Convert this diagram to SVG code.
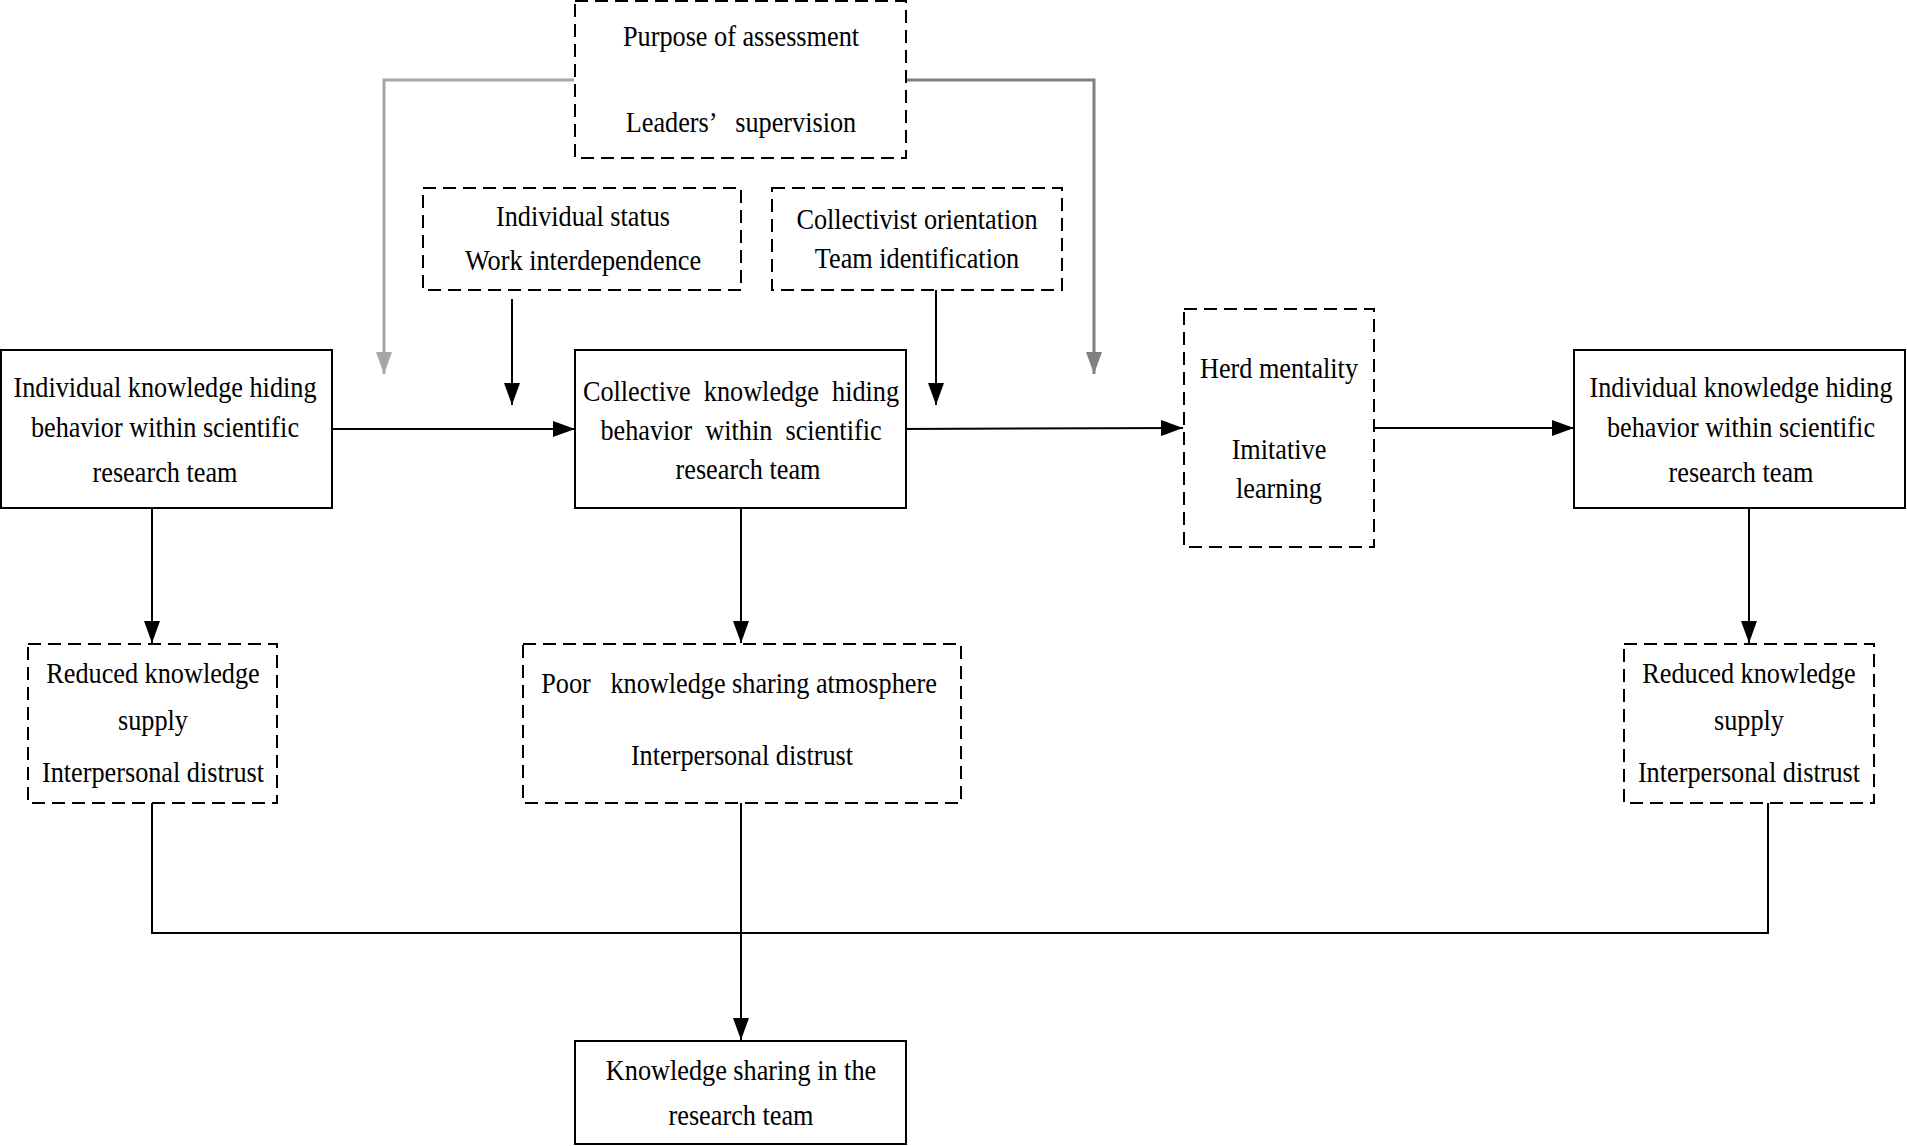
<svg xmlns="http://www.w3.org/2000/svg" width="1907" height="1146" viewBox="0 0 1907 1146">
<style>
text{font-family:"Liberation Serif","Times New Roman",serif;font-size:30px;fill:#000;text-anchor:middle;transform-box:fill-box;transform-origin:center;transform:scaleX(0.875)}
.solid{fill:#fff;stroke:#000;stroke-width:2}
.dash{fill:#fff;stroke:#000;stroke-width:2;stroke-dasharray:13 7}
.c{fill:none;stroke:#000;stroke-width:2}
</style>
<defs>
<marker id="ah" markerUnits="userSpaceOnUse" markerWidth="22" markerHeight="16" refX="22" refY="8" orient="auto">
<path d="M0,0 L22,8 L0,16 Z" fill="#000"/>
</marker>
<marker id="ahl" markerUnits="userSpaceOnUse" markerWidth="22" markerHeight="16" refX="22" refY="8" orient="auto">
<path d="M0,0 L22,8 L0,16 Z" fill="#a6a6a6"/>
</marker>
<marker id="ahd" markerUnits="userSpaceOnUse" markerWidth="22" markerHeight="16" refX="22" refY="8" orient="auto">
<path d="M0,0 L22,8 L0,16 Z" fill="#808080"/>
</marker>
</defs>
<rect width="1907" height="1146" fill="#fff"/>
<g id="connectors">
<path d="M574,80 H384 V374" fill="none" stroke="#a6a6a6" stroke-width="3" marker-end="url(#ahl)"/>
<path d="M906,80 H1094 V374" fill="none" stroke="#808080" stroke-width="3" marker-end="url(#ahd)"/>
<path class="c" d="M512,299 V405" marker-end="url(#ah)"/>
<path class="c" d="M936,287 V405" marker-end="url(#ah)"/>
<path class="c" d="M332,429 H575" marker-end="url(#ah)"/>
<path class="c" d="M900,429 L1183,428" marker-end="url(#ah)"/>
<path class="c" d="M1374,428 H1574" marker-end="url(#ah)"/>
<path class="c" d="M152,508 V643" marker-end="url(#ah)"/>
<path class="c" d="M741,508 V643" marker-end="url(#ah)"/>
<path class="c" d="M1749,508 V643" marker-end="url(#ah)"/>
<path class="c" d="M152,803 V933 H1768 V803"/>
<path class="c" d="M741,803 V1040" marker-end="url(#ah)"/>
</g>
<g id="n-purpose">
<rect class="dash" x="575" y="1" width="331" height="157"/>
<text x="741" y="46">Purpose of assessment</text>
<text x="741" y="132" xml:space="preserve">Leaders’   supervision</text>
</g>
<g id="n-status">
<rect class="dash" x="423" y="188" width="318" height="102"/>
<text x="583" y="226">Individual status</text>
<text x="583" y="270">Work interdependence</text>
</g>
<g id="n-collectivist">
<rect class="dash" x="772" y="188" width="290" height="102"/>
<text x="917" y="229">Collectivist orientation</text>
<text x="917" y="268">Team identification</text>
</g>
<g id="n-individual-left">
<rect class="solid" x="1" y="350" width="331" height="158"/>
<text x="165" y="397">Individual knowledge hiding</text>
<text x="165" y="437">behavior within scientific</text>
<text x="165" y="482">research team</text>
</g>
<g id="n-collective">
<rect class="solid" x="575" y="350" width="331" height="158"/>
<text x="741" y="401" xml:space="preserve">Collective  knowledge  hiding</text>
<text x="741" y="440" xml:space="preserve">behavior  within  scientific</text>
<text x="748" y="479">research team</text>
</g>
<g id="n-herd">
<rect class="dash" x="1184" y="309" width="190" height="238"/>
<text x="1279" y="378">Herd mentality</text>
<text x="1279" y="459">Imitative</text>
<text x="1279" y="498">learning</text>
</g>
<g id="n-individual-right">
<rect class="solid" x="1574" y="350" width="331" height="158"/>
<text x="1741" y="397">Individual knowledge hiding</text>
<text x="1741" y="437">behavior within scientific</text>
<text x="1741" y="482">research team</text>
</g>
<g id="n-reduced-left">
<rect class="dash" x="28" y="644" width="249" height="159"/>
<text x="153" y="683">Reduced knowledge</text>
<text x="153" y="730">supply</text>
<text x="153" y="782">Interpersonal distrust</text>
</g>
<g id="n-poor">
<rect class="dash" x="523" y="644" width="438" height="159"/>
<text x="739" y="693" xml:space="preserve">Poor   knowledge sharing atmosphere</text>
<text x="742" y="765">Interpersonal distrust</text>
</g>
<g id="n-reduced-right">
<rect class="dash" x="1624" y="644" width="250" height="159"/>
<text x="1749" y="683">Reduced knowledge</text>
<text x="1749" y="730">supply</text>
<text x="1749" y="782">Interpersonal distrust</text>
</g>
<g id="n-sharing">
<rect class="solid" x="575" y="1041" width="331" height="103"/>
<text x="741" y="1080">Knowledge sharing in the</text>
<text x="741" y="1125">research team</text>
</g>
</svg>
